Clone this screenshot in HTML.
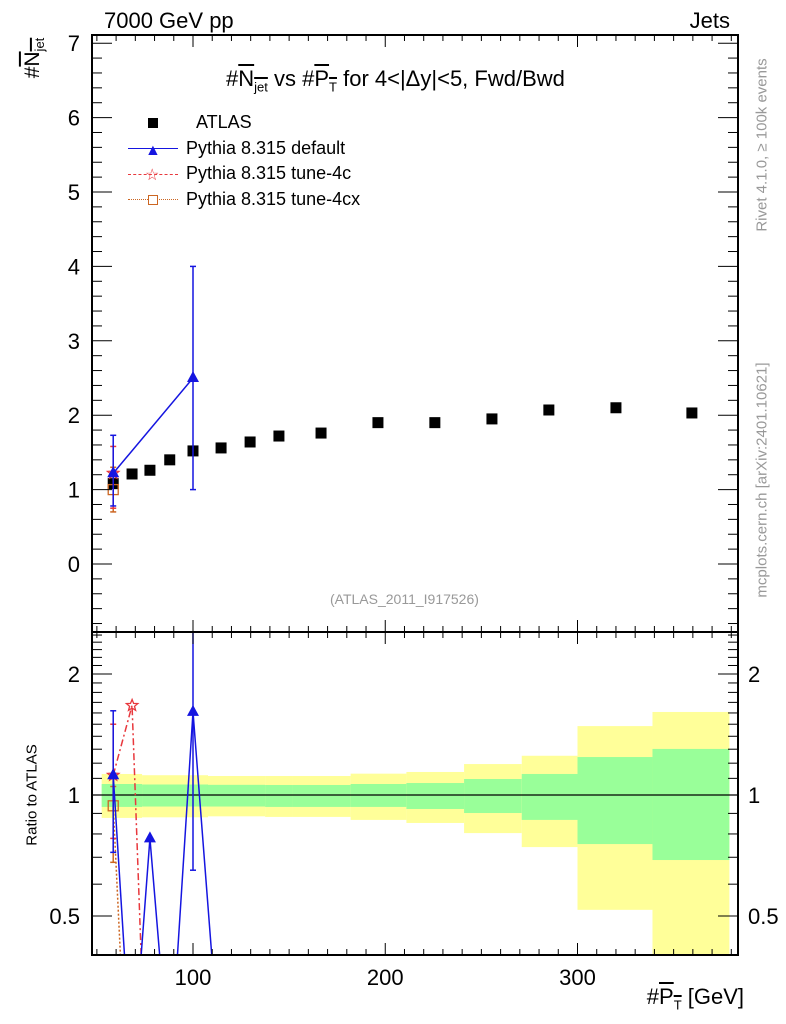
<!DOCTYPE html>
<html><head><meta charset="utf-8"><style>
html,body{margin:0;background:#fff;font-family:"Liberation Sans",sans-serif;width:786px;height:1024px;overflow:hidden}
svg{display:block}
svg text{font-family:"Liberation Sans",sans-serif}
</style></head><body>
<svg id="c" width="786" height="1024" xmlns="http://www.w3.org/2000/svg"></svg>
<script>
const atlasX=[58.5,68.3,77.6,87.9,100,114.6,129.7,144.7,166.6,196.2,225.8,255.5,285.1,320,359.5];
const atlasY=[1.08,1.21,1.26,1.40,1.52,1.56,1.64,1.72,1.76,1.90,1.90,1.95,2.07,2.10,2.03];
const defX=[58.5,100];const defY=[1.22,2.5];const defLo=[0.78,1.0];const defHi=[1.73,4.0];
const c4X=[58.5];const c4Y=[1.22];const c4Lo=[0.75];const c4Hi=[1.58];
const cxX=[58.5];const cxY=[1.0];const cxLo=[0.7];const cxHi=[1.3];
const rDefX=[58.5,68.3,77.6,87.9,100,114.6];const rDefY=[1.12,0.2,0.78,0.2,1.61,0.2];
const rDefLo=[0.72,null,null,null,0.65,null];const rDefHi=[1.62,null,null,null,3,null];
const rC4X=[58.5,68.3,77.6];const rC4Y=[1.12,1.67,0.1];
const rCxX=[58.5,68.3];const rCxY=[0.94,0.1];
const binEdges=[52.5,73.5,107.8,137.5,152,182,211,241,271,300,339,379];
const yelHi=[1.128,1.12,1.115,1.115,1.115,1.13,1.141,1.194,1.252,1.484,1.609];
const yelLo=[0.877,0.88,0.885,0.882,0.882,0.867,0.852,0.804,0.742,0.518,0.39];
const grnHi=[1.065,1.062,1.06,1.059,1.059,1.065,1.071,1.096,1.128,1.243,1.302];
const grnLo=[0.934,0.936,0.936,0.934,0.934,0.934,0.923,0.902,0.867,0.755,0.689];
const yTicks=[0,1,2,3,4,5,6,7];

const L=92,R=738,T=35,M=632,B=955;
const X=v=>193+(v-100)*1.9225;
const Y=v=>564-v*74.4;
const RY=v=>795-121*Math.log2(v);
const s=document.getElementById('c');const NS='http://www.w3.org/2000/svg';
function el(t,a,p){const e=document.createElementNS(NS,t);for(const k in a)e.setAttribute(k,a[k]);(p||s).appendChild(e);return e;}
function tx(x,y,str,a){const e=el('text',Object.assign({x:x,y:y},a||{}));e.textContent=str;return e;}
const defs=el('defs',{});
const cp1=el('clipPath',{id:'cm'},defs);el('rect',{x:L,y:T,width:R-L,height:M-T},cp1);
const cp2=el('clipPath',{id:'cr'},defs);el('rect',{x:L,y:M,width:R-L,height:B-M},cp2);
const gR=el('g',{'clip-path':'url(#cr)'});

for(let i=0;i<yelHi.length;i++){
 const x0=X(binEdges[i]),x1=X(binEdges[i+1]);
 const y=el('rect',{x:x0,y:RY(yelHi[i]),width:x1-x0,height:RY(yelLo[i])-RY(yelHi[i]),fill:'#ffff99'},gR);
 
 const g=el('rect',{x:x0,y:RY(grnHi[i]),width:x1-x0,height:RY(grnLo[i])-RY(grnHi[i]),fill:'#99ff99'},gR);
 
}
el('line',{x1:L,x2:R,y1:RY(1),y2:RY(1),stroke:'#000','stroke-width':1.2},gR);
const gM=el('g',{'clip-path':'url(#cm)'});

function tri(g,x,y,col){const p=el('path',{d:`M${x},${y-7}L${x+6},${y+4}L${x-6},${y+4}Z`,fill:col},g);}
function star(g,x,y,col){let d='';for(let i=0;i<10;i++){const r=i%2?2.6:6,a=-Math.PI/2+i*Math.PI/5;d+=(i?'L':'M')+(x+r*Math.cos(a)).toFixed(1)+','+(y+r*Math.sin(a)).toFixed(1);}const p=el('path',{d:d+'Z',fill:'none',stroke:col,'stroke-width':1.3},g);}
function sq(g,x,y,col){const p=el('rect',{x:x-5,y:y-5,width:10,height:10,fill:'none',stroke:col,'stroke-width':1.3},g);}
function err(g,x,lo,hi,col,yf){if(lo==null)return;el('line',{x1:x,x2:x,y1:yf(lo),y2:yf(hi),stroke:col,'stroke-width':1.5},g);
 el('line',{x1:x-3,x2:x+3,y1:yf(lo),y2:yf(lo),stroke:col,'stroke-width':1.5},g);el('line',{x1:x-3,x2:x+3,y1:yf(hi),y2:yf(hi),stroke:col,'stroke-width':1.5},g);}
function line(g,xs,ys,col,dash,yf,name){const l=el('polyline',{points:xs.map((v,i)=>X(v)+','+yf(ys[i])).join(' '),fill:'none',stroke:col,'stroke-width':1.5,'stroke-dasharray':dash||''},g);}
atlasX.forEach((v,i)=>{const r=el('rect',{x:X(v)-5.5,y:Y(atlasY[i])-5.5,width:11,height:11,fill:'#000'},gM);});
cxX.forEach((v,i)=>{err(gM,X(v),cxLo[i],cxHi[i],'#cc6622',Y);sq(gM,X(v),Y(cxY[i]),'#cc6622');});
c4X.forEach((v,i)=>{err(gM,X(v),c4Lo[i],c4Hi[i],'#e8383d',Y);star(gM,X(v),Y(c4Y[i]),'#e8383d');});
line(gM,defX,defY,'#1515e0','',Y,'pythia-default-line');
defX.forEach((v,i)=>{err(gM,X(v),defLo[i],defHi[i],'#1515e0',Y);tri(gM,X(v),Y(defY[i]),'#1515e0');});
line(gR,rCxX,rCxY,'#cc6622','2,2',RY,'ratio-tune-4cx-line');
err(gR,X(58.5),0.68,1.05,'#cc6622',RY);sq(gR,X(rCxX[0]),RY(rCxY[0]),'#cc6622');
line(gR,rC4X,rC4Y,'#e8383d','7,3,2,3',RY,'ratio-tune-4c-line');
err(gR,X(58.5),0.78,1.5,'#e8383d',RY);
rC4X.forEach((v,i)=>{if(rC4Y[i]>0.4)star(gR,X(v),RY(rC4Y[i]),'#e8383d');});
line(gR,rDefX,rDefY,'#1515e0','',RY,'ratio-default-line');
rDefX.forEach((v,i)=>{err(gR,X(v),rDefLo[i],rDefHi[i],'#1515e0',RY);if(rDefY[i]>0.4)tri(gR,X(v),RY(rDefY[i]),'#1515e0');});
el('rect',{x:L,y:T,width:R-L,height:M-T,fill:'none',stroke:'#000','stroke-width':2});
el('rect',{x:L,y:M,width:R-L,height:B-M,fill:'none',stroke:'#000','stroke-width':2});
for(let v=50;v<=380;v+=10){const x=X(v);const maj=v%100==0;const h=maj?12:6;
 [T,M].forEach(y0=>{el('line',{x1:x,x2:x,y1:y0,y2:y0+h,stroke:'#000'});});
 [M,B].forEach(y0=>{el('line',{x1:x,x2:x,y1:y0,y2:y0-h,stroke:'#000'});});
 if(maj){const t=tx(x,B+30,String(v),{'text-anchor':'middle','font-size':22});}}
for(let v=-0.8;v<=7.05;v+=0.2){const vv=Math.round(v*10)/10;const y=Y(vv);if(y<T||y>M)continue;const maj=Math.abs(vv-Math.round(vv))<1e-6;const h=maj?20:10;
 el('line',{x1:L,x2:L+h,y1:y,y2:y,stroke:'#000'});el('line',{x1:R,x2:R-h,y1:y,y2:y,stroke:'#000'});}
yTicks.forEach(v=>{const t=tx(80,Y(v)+8,String(v),{'text-anchor':'end','font-size':22});});
[0.4,0.5,0.6,0.7,0.8,0.9,1,2].concat([1.1,1.2,1.3,1.4,1.5,1.6,1.7,1.8,1.9,2.1,2.2,2.3,2.4,2.5]).forEach(v=>{const y=RY(v);if(y<M||y>B)return;const maj=(v==0.5||v==1||v==2);const h=maj?20:10;
 el('line',{x1:L,x2:L+h,y1:y,y2:y,stroke:'#000'});el('line',{x1:R,x2:R-h,y1:y,y2:y,stroke:'#000'});});
[[2,'2'],[1,'1'],[0.5,'0.5']].forEach(([v,l])=>{const a=tx(80,RY(v)+8,l,{'text-anchor':'end','font-size':22});
 const b=tx(748,RY(v)+8,l,{'font-size':22});});
</script>
<div style="position:absolute;left:0;top:0;width:786px;height:1024px;pointer-events:none;overflow:hidden">
<div style="position:absolute;left:104px;top:8px;font-size:22px">7000 GeV pp</div>
<div style="position:absolute;right:56px;top:8px;font-size:22px">Jets</div>
<div style="position:absolute;left:226px;top:66px;font-size:22px;white-space:nowrap">#<span style="text-decoration:overline">N<sub style="font-size:13px">jet</sub></span> vs #<span style="text-decoration:overline">P<sub style="font-size:13px">T</sub></span> for 4&lt;|Δy|&lt;5, Fwd/Bwd</div>
<div style="position:absolute;left:128px;top:110px;font-size:18px;line-height:25.5px">
<div><span style="display:inline-block;width:10px;height:10px;background:#000;margin:0 38px 0 20px"></span>ATLAS</div>
<div><span style="display:inline-block;width:50px;border-top:1.5px solid #1515e0;vertical-align:middle;margin-right:8px;position:relative"><span style="position:absolute;left:17px;top:-11px;color:#1515e0;font-size:16px">▲</span></span>Pythia 8.315 default</div>
<div><span style="display:inline-block;width:50px;border-top:1.5px dashed #e8383d;vertical-align:middle;margin-right:8px;position:relative"><span style="position:absolute;left:17px;top:-12px;color:#e8383d;font-size:16px">☆</span></span>Pythia 8.315 tune-4c</div>
<div><span style="display:inline-block;width:50px;border-top:1.5px dotted #cc6622;vertical-align:middle;margin-right:8px;position:relative"><span style="position:absolute;left:20px;top:-5px;width:8px;height:8px;border:1.3px solid #cc6622;background:#fff"></span></span>Pythia 8.315 tune-4cx</div>
</div>
<div style="position:absolute;left:330px;top:591px;font-size:14px;color:#999">(ATLAS_2011_I917526)</div>
<div style="position:absolute;left:762px;top:145px;transform:translate(-50%,-50%) rotate(-90deg);font-size:15px;color:#999;white-space:nowrap">Rivet 4.1.0, ≥ 100k events</div>
<div style="position:absolute;left:762px;top:480px;transform:translate(-50%,-50%) rotate(-90deg);font-size:15px;color:#999;white-space:nowrap">mcplots.cern.ch [arXiv:2401.10621]</div>
<div style="position:absolute;left:34px;top:58px;transform:translate(-50%,-50%) rotate(-90deg);font-size:21px;white-space:nowrap">#<span style="text-decoration:overline">N<sub style="font-size:13px">jet</sub></span></div>
<div style="position:absolute;left:32px;top:795px;transform:translate(-50%,-50%) rotate(-90deg);font-size:15px;white-space:nowrap">Ratio to ATLAS</div>
<div style="position:absolute;right:42px;top:984px;font-size:22px;white-space:nowrap">#<span style="text-decoration:overline">P<sub style="font-size:13px">T</sub></span> [GeV]</div>
</div>
</body></html>
